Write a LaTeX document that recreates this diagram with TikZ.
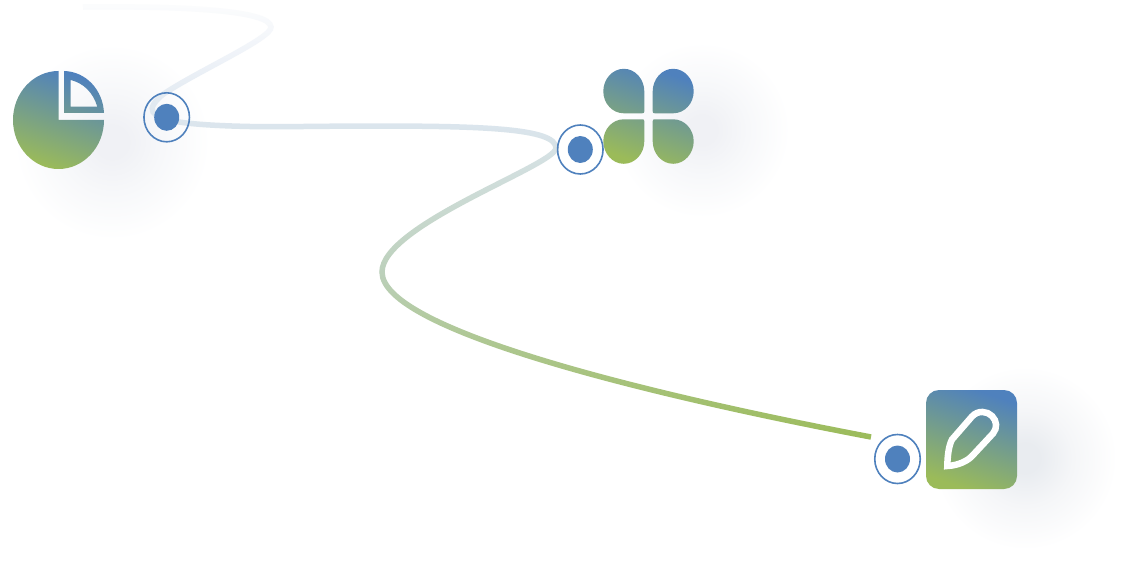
\documentclass[tikz,border=0pt]{standalone}
\usetikzlibrary{shapes.geometric,fadings}
\definecolor{iconblue}{HTML}{4F81BD}
\definecolor{icongreen}{HTML}{9BBB59}
\definecolor{glowgrey}{HTML}{F0F1F5}
\definecolor{glowmid}{HTML}{F7F8FA}
\definecolor{glowdark}{HTML}{E9ECF0}
\definecolor{glowdarkmid}{HTML}{F5F6F8}
\definecolor{cva}{HTML}{9BBB59}
\definecolor{cvb}{HTML}{BCD0BB}
\definecolor{cvc}{HTML}{DBE5ED}
\definecolor{cvd}{HTML}{EEF2F8}
\definecolor{cve}{HTML}{FBFCFD}
\pgfdeclareverticalshading{curveshade}{100bp}{
  color(0bp)=(cva); color(25bp)=(cva); color(44.1bp)=(cvb); color(60.8bp)=(cvc); color(68.2bp)=(cvd); color(74.4bp)=(cve); color(100bp)=(cve)}
\pgfdeclareradialshading{softglow}{\pgfpoint{0bp}{0bp}}{
  color(0bp)=(glowgrey); color(4bp)=(glowgrey); color(13bp)=(glowmid); color(25bp)=(white); color(50bp)=(white)}
\pgfdeclareradialshading{softglowdark}{\pgfpoint{0bp}{0bp}}{
  color(0bp)=(glowdark); color(4bp)=(glowdark); color(13bp)=(glowdarkmid); color(25bp)=(white); color(50bp)=(white)}
\tikzset{
  x=1pt,y=-1pt,
  icon/.style={top color=iconblue,bottom color=icongreen,shading angle=-19,draw=none},
  ringnode/.style={ellipse,draw=iconblue,line width=1.6pt,minimum width=45.5pt,minimum height=49pt,inner sep=0pt},
  dotnode/.style={ellipse,fill=iconblue,draw=none,minimum width=25pt,minimum height=27pt,inner sep=0pt},
}
\newcommand{\routepath}{(83,7) .. controls (180,6) and (270,10) .. (271,27)
  .. controls (272,38) and (200,70) .. (165,93)
  .. controls (155,100) and (150,108) .. (153,112)
  .. controls (158,120) and (180,125) .. (250,126.5)
  .. controls (290,127) and (330,126) .. (370,126)
  .. controls (480,126) and (556,128) .. (556,148)
  .. controls (556,165) and (382,225) .. (382,272)
  .. controls (382,330) and (650,395) .. (871,437)}
\begin{tikzfadingfrompicture}[name=routefade,x=1pt,y=-1pt]
  \path (0,0) rectangle (1130,572);
  \draw[transparent!0,line width=5.5pt] \routepath;
\end{tikzfadingfrompicture}
\newcommand{\petal}[4]{% small corner at (#1,#2), growing in direction (#3,#4)
  ({#1+#3*2},{#2}) -- ({#1+#3*20.5},{#2})
  .. controls ({#1+#3*32},{#2}) and ({#1+#3*41},{#2+#4*10}) .. ({#1+#3*41},{#2+#4*22})
  .. controls ({#1+#3*41},{#2+#4*34}) and ({#1+#3*32},{#2+#4*44.5}) .. ({#1+#3*20.5},{#2+#4*44.5})
  .. controls ({#1+#3*9},{#2+#4*44.5}) and ({#1},{#2+#4*34}) .. ({#1},{#2+#4*22})
  -- ({#1},{#2+#4*2}) .. controls ({#1},{#2+#4*0.5}) and ({#1+#3*0.5},{#2}) .. ({#1+#3*2},{#2}) -- cycle
}
\begin{document}
\begin{tikzpicture}
  \useasboundingbox (0,0) rectangle (1130,572);
  \fill[white] (0,0) rectangle (1130,572);
  % soft shadows
  \shade[shading=softglow] (112,142) circle[radius=98];
  \shade[shading=softglow] (702,130) circle[radius=88];
  \shade[shading=softglowdark] (1025,458) circle[radius=92];
  % route
  \shade[shading=curveshade,path fading=routefade,fit fading=false,fading transform={shift={(565,286)}}]
    (0,0) rectangle (1130,440);
  % pie icon
  \shade[icon,even odd rule] (58.5,71)
     .. controls (33.4,71) and (13,93) .. (13,120)
     .. controls (13,147) and (33.4,169) .. (58.5,169)
     .. controls (83.6,169) and (104,147) .. (104,120)
     -- (58.5,120) -- cycle
     (64,71)
     .. controls (86,71.5) and (103,90) .. (104,113) -- (64,113) -- cycle
     (70.7,80) -- (70.7,106.7) -- (97.3,106.7) .. controls (93,92) and (83,83) .. (70.7,80) -- cycle;
  % clover icon
  \shade[icon] \petal{644.3}{113.3}{-1}{-1} \petal{652.7}{113.3}{1}{-1}
               \petal{644.3}{119.3}{-1}{1}  \petal{652.7}{119.3}{1}{1};
  % pencil icon
  \shade[icon] (926,390) [rounded corners=13pt] -- (1017,390) -- (1017,489) -- (926,489) -- cycle;
  \draw[white,line width=6.5pt,miter limit=10] (947.3,466)
     .. controls (947.5,455) and (949,445) .. (952,439.5) -- (972,416.5)
     .. controls (978,410) and (987,411) .. (992,416)
     .. controls (997,421) and (997.5,428) .. (993,433.5) -- (973,455)
     .. controls (968,461) and (958,465.5) .. (947.3,466) -- cycle;
  % markers
  \node[ringnode] (ringa) at (166.7,117.3) {};
  \node[dotnode]  (dota)  at (166.7,117.3) {};
  \node[ringnode] (ringb) at (580.3,149.5) {};
  \node[dotnode]  (dotb)  at (580.3,149.5) {};
  \node[ringnode] (ringc) at (897.5,459) {};
  \node[dotnode]  (dotc)  at (897.5,459) {};
\end{tikzpicture}
\end{document}
